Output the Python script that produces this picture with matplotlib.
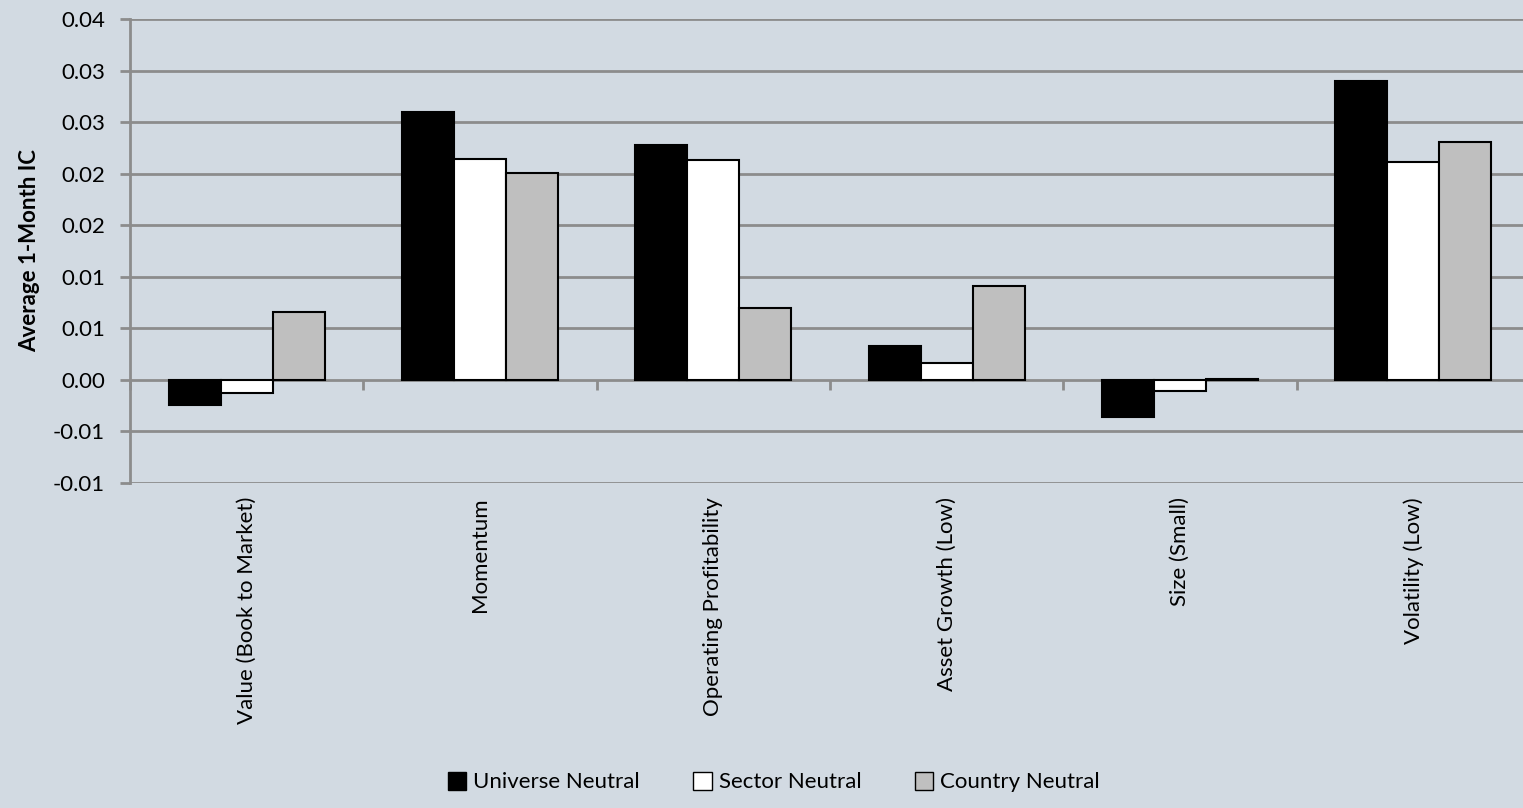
import matplotlib
matplotlib.use("Agg")
import matplotlib.pyplot as plt
import numpy as np
from matplotlib.patches import Patch

# factor IC by neutralisation scheme
categories = ["Value (Book to Market)", "Momentum", "Operating Profitability",
              "Asset Growth (Low)", "Size (Small)", "Volatility (Low)"]
universe_neutral = [-0.0024, 0.0260, 0.0228, 0.0033, -0.0036, 0.0290]
sector_neutral = [-0.0013, 0.0214, 0.0213, 0.0016, -0.0011, 0.0211]
country_neutral = [0.0066, 0.0201, 0.0070, 0.0091, 0.0001, 0.0231]
series_names = ["Universe Neutral", "Sector Neutral", "Country Neutral"]

y_ticks = [-0.01, -0.005, 0.0, 0.005, 0.01, 0.015, 0.02, 0.025, 0.03, 0.035]
y_tick_labels = ["-0.01", "-0.01", "0.00", "0.01", "0.01", "0.02", "0.02", "0.03", "0.03", "0.04"]

bg = "#d2dae2"
grid_col = "#8c8c8c"
fills = ["black", "white", "#bfbfbf"]
plt.rcParams["font.family"] = ["Lato", "DejaVu Sans"]

fig = plt.figure(figsize=(15.23, 8.08), dpi=100, facecolor=bg)
ax = fig.add_axes([130 / 1523, 1 - 483 / 808, 1400 / 1523, 464 / 808])
ax.set_facecolor(bg)

x = np.arange(len(categories))
w = 0.223
for i, (vals, col) in enumerate(zip([universe_neutral, sector_neutral, country_neutral], fills)):
    ax.bar(x + (i - 1) * w, vals, width=w, color=col, edgecolor="black",
           linewidth=1.5, zorder=3)

ymin, ymax = -0.01, 0.035
ax.set_ylim(ymin, ymax)
ax.set_xlim(-0.5, len(categories) - 0.5)
ax.set_yticks(y_ticks)
ax.set_yticklabels(y_tick_labels, fontsize=16)
ax.yaxis.grid(True, color=grid_col, linewidth=2)
ax.set_axisbelow(True)
ax.tick_params(axis="y", length=7, width=2, color=grid_col, pad=11)

for s in ["top", "right", "bottom"]:
    ax.spines[s].set_visible(False)
ax.spines["left"].set_color(grid_col)
ax.spines["left"].set_linewidth(2)

# category labels sit at the bottom of the plot
ax.set_xticks(x)
ax.set_xticklabels(categories, rotation=90, fontsize=16, va="top")
ax.tick_params(axis="x", length=0, pad=10)

# category boundary ticks hang off the zero line
zero_loc = (0 - ymin) / (ymax - ymin)
sec = ax.secondary_xaxis(zero_loc)
sec.set_xticks(np.arange(len(categories) + 1) - 0.5)
sec.set_xticklabels([])
sec.tick_params(length=7, width=2, color=grid_col, direction="out")
sec.spines["bottom"].set_visible(False)

ax.set_ylabel("Average 1-Month IC", fontsize=16, fontweight="bold", labelpad=9)

handles = [Patch(facecolor=c, edgecolor="black", linewidth=1) for c in fills]
fig.legend(handles, series_names, loc="center", bbox_to_anchor=(0.508, 0.032),
           ncol=3, frameon=False, fontsize=16, handlelength=0.85, handleheight=0.85,
           handletextpad=0.3, columnspacing=2.4)

fig.savefig("out.png", dpi=100, facecolor=bg)
